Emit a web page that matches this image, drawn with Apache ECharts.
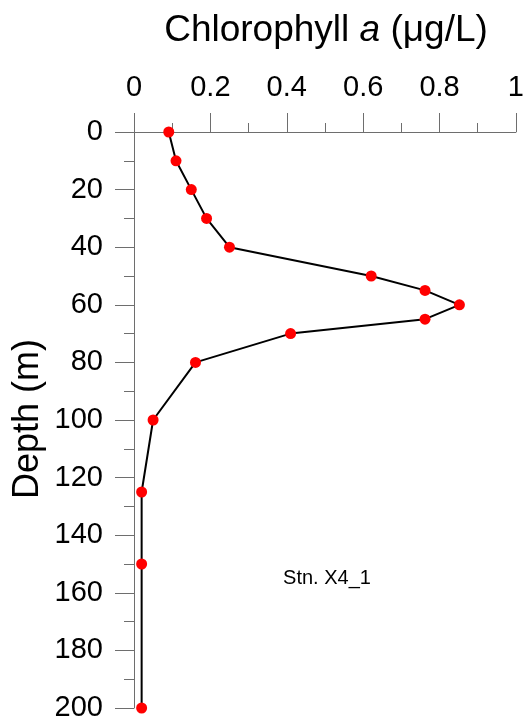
<!DOCTYPE html>
<html>
<head>
<meta charset="utf-8">
<script src="https://cdn.jsdelivr.net/npm/echarts@6/dist/echarts.min.js"></script>
<style>
  html, body { margin: 0; padding: 0; background: #fff; }
  #chart { width: 527px; height: 725px; }
</style>
</head>
<body>
<div id="chart"></div>
<script>
// Chlorophyll a profile at station X4_1
const depths = [0, 10, 20, 30, 40, 50, 55, 60, 65, 70, 80, 100, 125, 150, 200];
const chlA   = [0.091, 0.110, 0.150, 0.190, 0.250, 0.621, 0.762, 0.852, 0.762, 0.410, 0.161, 0.050, 0.020, 0.020, 0.020];
const stationLabel = 'Stn. X4_1';

const FONT = '"Liberation Sans", Arial, Helvetica, sans-serif';
const AXIS_GRAY = '#6e6e6e';

const chart = echarts.init(document.getElementById('chart'), null, { renderer: 'canvas' });

const points = depths.map((d, i) => [chlA[i], d]);

chart.setOption({
  animation: false,
  backgroundColor: '#ffffff',
  grid: { left: 134, right: 9, top: 132, bottom: 17, containLabel: false },
  xAxis: {
    type: 'value',
    position: 'top',
    min: 0, max: 1, interval: 0.2,
    axisLine: { show: true, onZero: false, lineStyle: { color: AXIS_GRAY, width: 1 } },
    axisTick: { show: true, inside: false, length: 19, lineStyle: { color: AXIS_GRAY, width: 1 } },
    minorTick: { show: true, splitNumber: 2, length: 9, lineStyle: { color: AXIS_GRAY, width: 1 } },
    splitLine: { show: false },
    minorSplitLine: { show: false },
    axisLabel: { margin: 30, color: '#000', fontSize: 29, fontFamily: FONT }
  },
  yAxis: {
    type: 'value',
    inverse: true,
    min: 0, max: 200, interval: 20,
    axisLine: { show: true, onZero: false, lineStyle: { color: AXIS_GRAY, width: 1 } },
    axisTick: { show: true, inside: false, length: 19, lineStyle: { color: AXIS_GRAY, width: 1 } },
    minorTick: { show: true, splitNumber: 2, length: 10, lineStyle: { color: AXIS_GRAY, width: 1 } },
    splitLine: { show: false },
    minorSplitLine: { show: false },
    axisLabel: { margin: 31, color: '#000', fontSize: 29, fontFamily: FONT }
  },
  series: [{
    type: 'line',
    data: points,
    symbol: 'circle',
    symbolSize: 11,
    showAllSymbol: true,
    clip: false,
    lineStyle: { color: '#000', width: 2 },
    itemStyle: { color: '#ff0000', borderWidth: 0 },
    z: 3
  }],
  graphic: [
    {
      type: 'text',
      x: 326, y: 31,
      style: {
        text: '{n|Chlorophyll }{i|a}{n| (μg/L)}',
        align: 'center',
        verticalAlign: 'middle',
        rich: {
          n: { fontSize: 37, fontFamily: FONT, fill: '#000', color: '#000' },
          i: { fontSize: 37, fontFamily: FONT, fontStyle: 'italic', fill: '#000', color: '#000' }
        }
      }
    },
    {
      type: 'text',
      x: 28, y: 419,
      rotation: Math.PI / 2,
      style: {
        text: 'Depth (m)',
        align: 'center',
        verticalAlign: 'middle',
        font: '36px ' + FONT,
        fill: '#000'
      }
    },
    {
      type: 'text',
      x: 327, y: 578,
      style: {
        text: stationLabel,
        align: 'center',
        verticalAlign: 'middle',
        font: '20px ' + FONT,
        fill: '#000'
      }
    }
  ]
});
</script>
</body>
</html>
